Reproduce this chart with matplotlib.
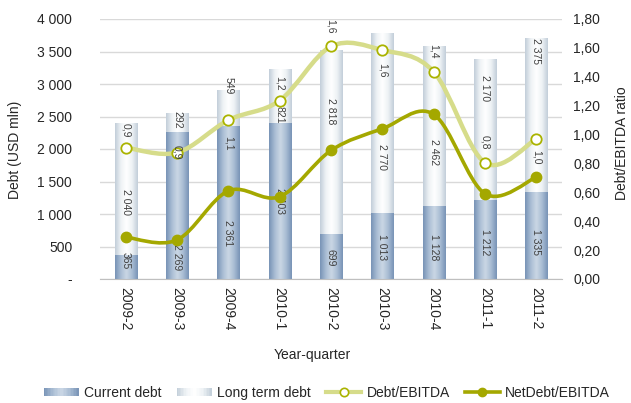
import numpy as np
import matplotlib
matplotlib.use('Agg')
import matplotlib.pyplot as plt
from matplotlib.path import Path
from matplotlib.patches import PathPatch, Rectangle
from matplotlib.colors import LinearSegmentedColormap
from matplotlib.lines import Line2D
from matplotlib.legend_handler import HandlerBase
from matplotlib.ticker import FuncFormatter, MultipleLocator

plt.rcParams['font.family'] = ['Liberation Sans', 'DejaVu Sans']

# ---------------- data ----------------
quarters = ['2009-2', '2009-3', '2009-4', '2010-1', '2010-2',
            '2010-3', '2010-4', '2011-1', '2011-2']
current_debt = [365, 2269, 2361, 2403, 699, 1013, 1128, 1212, 1335]
long_term_debt = [2040, 292, 549, 821, 2818, 2770, 2462, 2170, 2375]
debt_ebitda = [0.91, 0.875, 1.10, 1.235, 1.61, 1.585, 1.435, 0.805, 0.97]
netdebt_ebitda = [0.29, 0.27, 0.61, 0.57, 0.89, 1.04, 1.14, 0.59, 0.705]

# label placement tweaks (pixels, + = down) to mimic the reference
cur_label_dy = [-7, 52, 31, 0, 1, 1, 5, 3, 6]
lt_label_dy = [13, -2, -22, 19, -31, 34, 26, -42, -64]
ratio_label_dy = [-17, 0, 23, -17, -20, 20, -20, -20, 18]

# ---------------- styling ----------------
TXT = '#262626'
cur_cmap = LinearSegmentedColormap.from_list(
    'cur', ['#7893b6', '#a9bdd4', '#cbd7e5', '#a9bdd4', '#7893b6'])
lt_cmap = LinearSegmentedColormap.from_list(
    'lt', ['#c2ced9', '#eef2f5', '#ffffff', '#eef2f5', '#c2ced9'])
light_line = '#d6dc8a'
light_edge = '#aab300'
dark_line = '#a4a800'

W, H = 631, 403
fig = plt.figure(figsize=(W / 100, H / 100), dpi=100)
ax = fig.add_axes([100 / W, 1 - 279 / H, 462 / W, 260 / H])
ax2 = ax.twinx()
ax2.set_position([100 / W, 1 - 279 / H, 462 / W, 260 / H])

x = np.arange(len(quarters))
bw = 0.43
grad = np.linspace(0, 1, 64).reshape(1, -1)


def gradient_bars(bars, cmap):
    for b in bars:
        bx, by = b.get_x(), b.get_y()
        bwid, bh = b.get_width(), b.get_height()
        im = ax.imshow(grad, cmap=cmap, aspect='auto',
                       extent=[bx, bx + bwid, by, by + bh], zorder=2,
                       interpolation='bicubic')
        im.set_clip_path(b)


bars_cur = ax.bar(x, current_debt, bw, color='none', edgecolor='none', zorder=2)
bars_lt = ax.bar(x, long_term_debt, bw, bottom=current_debt, color='none',
                 edgecolor='none', zorder=2)
gradient_bars(bars_cur, cur_cmap)
gradient_bars(bars_lt, lt_cmap)

ax.set_xlim(-0.5, len(quarters) - 0.5)
ax.set_ylim(0, 4000)
ax.yaxis.set_major_locator(MultipleLocator(500))
ax.yaxis.set_major_formatter(FuncFormatter(
    lambda v, p: '-' if v == 0 else f'{int(v):,}'.replace(',', ' ')))
ax.grid(axis='y', color='#d9d9d9', lw=1)
ax.set_axisbelow(True)
for s in ['top', 'left', 'right']:
    ax.spines[s].set_visible(False)
    ax2.spines[s].set_visible(False)
ax.spines['bottom'].set_color('#bfbfbf')
ax2.spines['bottom'].set_visible(False)
ax.tick_params(axis='y', length=0, pad=20, labelsize=10, labelcolor=TXT)
ax.set_xticks(x)
ax.set_xticklabels(quarters, rotation=270, fontsize=10, color=TXT)
ax.tick_params(axis='x', length=0, pad=6)

ax2.set_ylim(0, 1.8)
ax2.yaxis.set_major_locator(MultipleLocator(0.2))
ax2.yaxis.set_major_formatter(FuncFormatter(lambda v, p: f'{v:.2f}'.replace('.', ',')))
ax2.tick_params(axis='y', length=0, pad=8, labelsize=10, labelcolor=TXT)

# bar value labels
px2pt = 0.72
for i in range(len(quarters)):
    c = current_debt[i]
    l = long_term_debt[i]
    ax.annotate(f'{c:,}'.replace(',', ' '), (x[i], c / 2),
                xytext=(0, -cur_label_dy[i] * px2pt), textcoords='offset points',
                rotation=270, ha='center', va='center', fontsize=7.5, color='#404040',
                zorder=3)
    ax.annotate(f'{l:,}'.replace(',', ' '), (x[i], c + l / 2),
                xytext=(0, -lt_label_dy[i] * px2pt), textcoords='offset points',
                rotation=270, ha='center', va='center', fontsize=7.5, color='#404040',
                zorder=3)


def smooth_path(xs, ys):
    pts = np.column_stack([xs, ys]).astype(float)
    n = len(pts)
    verts = [pts[0]]
    codes = [Path.MOVETO]
    for i in range(n - 1):
        p0 = pts[i - 1] if i > 0 else pts[i]
        p1 = pts[i]
        p2 = pts[i + 1]
        p3 = pts[i + 2] if i + 2 < n else pts[i + 1]
        c1 = p1 + (p2 - p0) / 6
        c2 = p2 - (p3 - p1) / 6
        verts += [c1, c2, p2]
        codes += [Path.CURVE4] * 3
    return Path(verts, codes)


ax2.add_patch(PathPatch(smooth_path(x, debt_ebitda), fill=False,
                        edgecolor=light_line, lw=3.2, capstyle='round', zorder=4))
ax2.plot(x, debt_ebitda, ls='none', marker='o', ms=7.5, mfc='white',
         mec=light_edge, mew=1.3, zorder=5)
ax2.add_patch(PathPatch(smooth_path(x, netdebt_ebitda), fill=False,
                        edgecolor=dark_line, lw=2.6, capstyle='round', zorder=4))
ax2.plot(x, netdebt_ebitda, ls='none', marker='o', ms=7.5, mfc=dark_line,
         mec=dark_line, zorder=5)

for i, v in enumerate(debt_ebitda):
    ax2.annotate(f'{v:.1f}'.replace('.', ','), (x[i], v),
                 xytext=(0, -ratio_label_dy[i] * px2pt), textcoords='offset points',
                 rotation=270, ha='center', va='center', fontsize=7.5, color='#404040',
                 zorder=6)

# axis titles
fig.text(15 / W, 1 - 150 / H, 'Debt (USD mln)', rotation=90, ha='center',
         va='center', fontsize=10, color=TXT)
fig.text(622 / W, 1 - 143 / H, 'Debt/EBITDA ratio', rotation=90, ha='center',
         va='center', fontsize=10, color=TXT)
fig.text(312 / W, 1 - 355 / H, 'Year-quarter', ha='center', va='center',
         fontsize=10, color=TXT)


# legend with gradient patches
class GradHandler(HandlerBase):
    def __init__(self, cmap):
        super().__init__()
        self.cmap = cmap

    def create_artists(self, legend, orig_handle, xdescent, ydescent, width,
                       height, fontsize, trans):
        n = 24
        arts = []
        for k in range(n):
            r = Rectangle((-xdescent + width * k / n, -ydescent + height * 0.1),
                          width / n + 0.3, height * 0.8,
                          facecolor=self.cmap((k + 0.5) / n), edgecolor='none',
                          transform=trans)
            arts.append(r)
        return arts


h_cur = Rectangle((0, 0), 1, 1)
h_lt = Rectangle((0, 1), 1, 1)
h_de = Line2D([], [], color=light_line, lw=3, marker='o', ms=6, mfc='white',
              mec=light_edge, mew=1.2)
h_nd = Line2D([], [], color=dark_line, lw=2.6, marker='o', ms=6, mfc=dark_line,
              mec=dark_line)
fig.legend([h_cur, h_lt, h_de, h_nd],
           ['Current debt', 'Long term debt', 'Debt/EBITDA', 'NetDebt/EBITDA'],
           handler_map={h_cur: GradHandler(cur_cmap), h_lt: GradHandler(lt_cmap)},
           loc='center', bbox_to_anchor=(327 / W, 1 - 393 / H), ncol=4,
           frameon=False, fontsize=10, handlelength=2.5, columnspacing=1.1,
           handletextpad=0.4, labelcolor=TXT)

fig.savefig('out.png', dpi=100)
